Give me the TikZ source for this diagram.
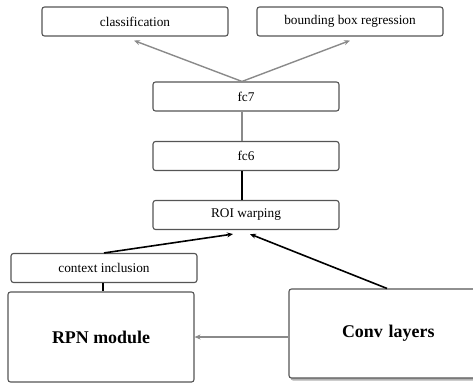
\documentclass[tikz,border=0pt]{standalone}
\usepackage{fontspec}
\setmainfont{Liberation Serif}
\usetikzlibrary{calc,arrows.meta,shadows}
\definecolor{boxline}{HTML}{555555}
\definecolor{greyarrow}{HTML}{8A8A8A}
\tikzset{
  block/.style={draw=boxline, line width=1.1pt, rounded corners=2.5pt, fill=white,
    inner sep=0pt, minimum width=186pt, minimum height=29pt,
    font=\fontsize{13.3}{15}\selectfont},
  bigblock/.style={block, font=\fontsize{17.9}{20}\selectfont\bfseries},
  greyflow/.style={draw=greyarrow, line width=1.4pt, -{Stealth[length=6pt,width=5pt]}},
  darkflow/.style={draw=black, line width=1.6pt, -{Stealth[length=6pt,width=5pt]}},
  greylink/.style={draw=greyarrow, line width=1.3pt},
  darklink/.style={draw=black, line width=1.6pt},
}
\begin{document}
\begin{tikzpicture}[x=1pt,y=-1pt]
  \useasboundingbox (0,0) rectangle (473,383);

  % detection heads
  \node[block] (cls) at (135,21.5) {classification};
  \node[block] (bbr) at (350,21.5) {bounding box regression};

  % fully connected stack
  \node[block] (fc7) at (246,96.5) {fc7};
  \node[block] (fc6) at (246,156) {fc6};
  \node[block] (roi) at (246,215) {ROI warping};

  % region proposals and backbone
  \node[block] (ctx) at (104,268) {context inclusion};
  \node[bigblock, minimum width=186pt, minimum height=90pt] (rpn) at (101,337) {RPN module};
  \node[bigblock, minimum width=194pt, minimum height=89pt,
        drop shadow={shadow xshift=1.5pt, shadow yshift=-2.5pt, opacity=0.6},
        text width=186pt, align=left] (conv) at (386,333.5)
        {\hspace*{49pt}Conv layers};

  % anchor points for the connectors
  \coordinate (fc7top) at ($(fc7.north)+(-4,0)$);
  \coordinate (clstip) at ($(cls.south)+(-1,4)$);
  \coordinate (bbrtip) at ($(bbr.south)+(0,4)$);
  \coordinate (roiL) at ($(roi.south)+(-13,4)$);
  \coordinate (roiR) at ($(roi.south)+(4,4)$);
  \coordinate (convtop) at ($(conv.north)+(1,0)$);

  \draw[greyflow] (fc7top) -- (clstip);
  \draw[greyflow] (fc7top) -- (bbrtip);
  \draw[greylink] (fc7.south -| fc7top) -- (fc6.north -| fc7top);
  \draw[darklink] (fc6.south -| fc7top) -- (roi.north -| fc7top);
  \draw[darkflow] (ctx.north) -- (roiL);
  \draw[darkflow] (convtop) -- (roiR);
  \draw[darklink] ($(ctx.south)+(-1,0)$) -- ($(rpn.north)+(2,0)$);
  \draw[greyflow, line width=1.2pt] (conv.west |- rpn.east) -- (rpn.east);
\end{tikzpicture}
\end{document}
